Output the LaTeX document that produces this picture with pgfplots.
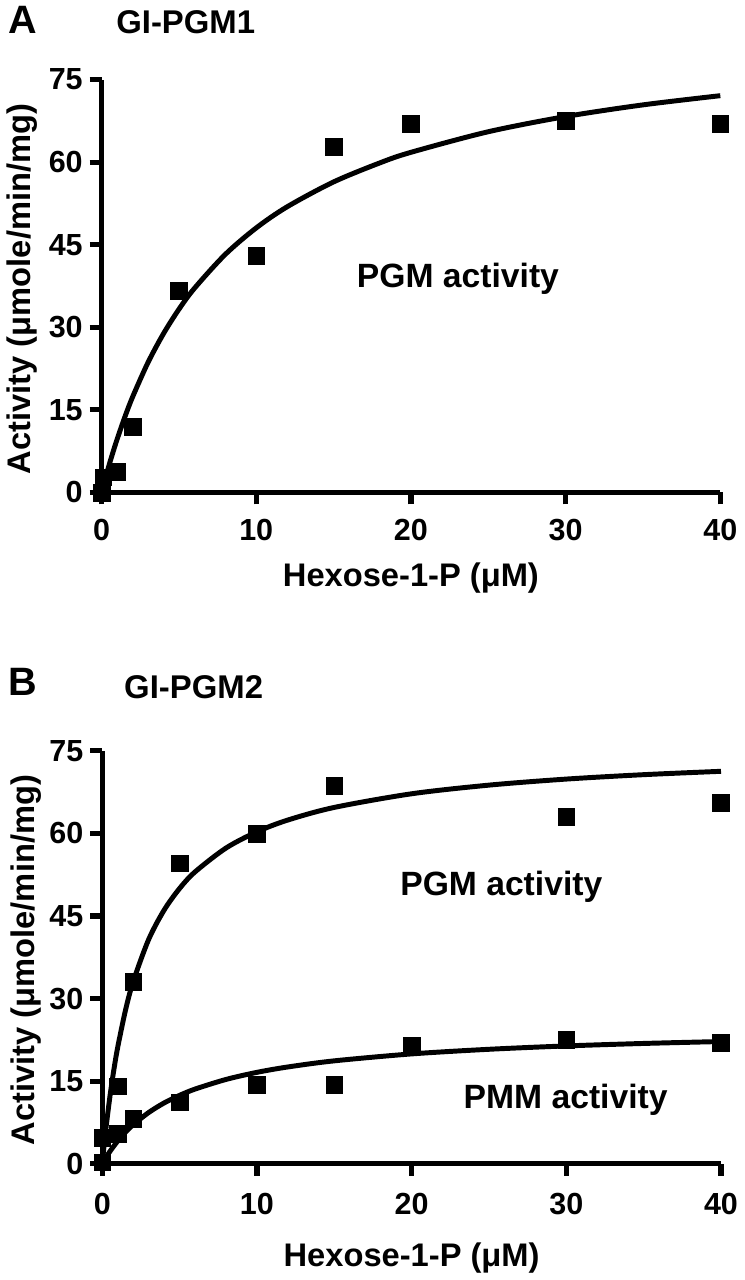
\documentclass[border=0pt]{standalone}
\usepackage{pgfplots}
\pgfplotsset{compat=1.18}
\usepackage{fontspec}
\setmainfont{Liberation Sans}
\begin{document}
\begin{tikzpicture}
\pgfplotsset{
  panel/.style={
    scale only axis, width=312.5pt, height=208.5pt,
    xmin=0, xmax=40, ymin=0, ymax=75,
    axis x line*=bottom, axis y line*=left,
    axis line style={-, line width=2.6pt},
    xtick={0,10,20,30,40}, ytick={0,15,30,45,60,75},
    tick align=outside, major tick length=6pt,
    tick style={line width=2.6pt, black},
    every tick label/.append style={font=\bfseries\fontsize{15.4}{16}\selectfont},
    xticklabel style={yshift=-4pt},
    /pgf/number format/assume math mode=true,
    clip=false,
  },
  fitline/.style={black, line width=2.5pt, smooth, no markers},
  pts/.style={only marks, mark=square*, mark size=4.2pt, mark options={fill=black, draw=black, line width=0.2pt}},
}
% ---------------- Panel A ----------------
\begin{axis}[panel, at={(0pt,0pt)}, anchor=south west]
\addplot[fitline] coordinates {
(0,0) (0.1,1.07) (0.25,2.62) (0.5,5.09) (0.75,7.41) (1,9.61) (1.5,13.66) (2,17.30)
(3,23.59) (4,28.83) (5,33.27) (6,37.07) (8,43.25) (10,48.06) (12,51.90) (15,56.41)
(18,59.88) (20,61.79) (25,65.53) (30,68.29) (35,70.41) (40,72.08)};
\addplot[pts] coordinates {
(0,0.0) (0.1,2.8) (1,3.8) (2,12.0) (5,36.7) (10,43.0) (15,62.8) (20,67.0) (30,67.5) (40,67.0)};
\end{axis}
% ---------------- Panel B ----------------
\begin{axis}[panel, at={(0.35pt,-339pt)}, anchor=south west, xticklabel style={yshift=-1.5pt}]
\addplot[fitline] coordinates {
(0,0) (0.1,2.82) (0.25,6.68) (0.5,12.28) (0.75,17.04) (1,21.14) (1.5,27.84) (2,33.07)
(3,40.73) (4,46.07) (5,50.00) (6,53.01) (8,57.34) (10,60.29) (12,62.43) (15,64.72)
(20,67.20) (25,68.77) (30,69.87) (35,70.67) (40,71.28)};
\addplot[fitline] coordinates {
(0,0) (0.25,1.17) (0.5,2.24) (1,4.12) (1.5,5.71) (2,7.07) (3,9.29) (4,11.03) (5,12.41)
(6,13.55) (8,15.30) (10,16.59) (12,17.57) (15,18.68) (20,19.94) (25,20.78) (30,21.39)
(35,21.84) (40,22.19)};
\addplot[pts] coordinates {
(0,0.3) (1,14.1) (2,33.1) (5,54.6) (10,60.0) (15,68.7) (30,63.0) (40,65.6)};
\addplot[pts] coordinates {
(0,4.7) (1,5.5) (2,8.2) (5,11.2) (10,14.3) (15,14.3) (20,21.4) (30,22.5) (40,22.0)};
\end{axis}
% ---------------- Labels ----------------
\node[font=\bfseries\fontsize{20}{24}\selectfont] at (-40pt,238.5pt) {A};
\node[font=\bfseries\fontsize{16.6}{20}\selectfont] at (42.5pt,237.75pt) {GI-PGM1};
\node[font=\bfseries\fontsize{16.5}{20}\selectfont, anchor=base] at (156.25pt,-47.5pt) {Hexose-1-P (μM)};
\node[font=\bfseries\fontsize{16.5}{20}\selectfont, anchor=base, rotate=90] at (-36pt,102.75pt) {Activity (μmole/min/mg)};
\node[font=\bfseries\fontsize{17}{20}\selectfont, anchor=base] at (180pt,103.4pt) {PGM activity};
\node[font=\bfseries\fontsize{20}{24}\selectfont] at (-39.75pt,-95.75pt) {B};
\node[font=\bfseries\fontsize{16.6}{20}\selectfont] at (46.5pt,-98.4pt) {GI-PGM2};
\node[font=\bfseries\fontsize{16.5}{20}\selectfont, anchor=base] at (156.6pt,-391pt) {Hexose-1-P (μM)};
\node[font=\bfseries\fontsize{16.5}{20}\selectfont, anchor=base, rotate=90] at (-34pt,-236.2pt) {Activity (μmole/min/mg)};
\node[font=\bfseries\fontsize{17}{20}\selectfont, anchor=base] at (201.9pt,-203.7pt) {PGM activity};
\node[font=\bfseries\fontsize{17}{20}\selectfont, anchor=base] at (234.4pt,-311.2pt) {PMM activity};
\useasboundingbox (-48.5pt,-392pt) rectangle (321pt,248pt);
\end{tikzpicture}
\end{document}
